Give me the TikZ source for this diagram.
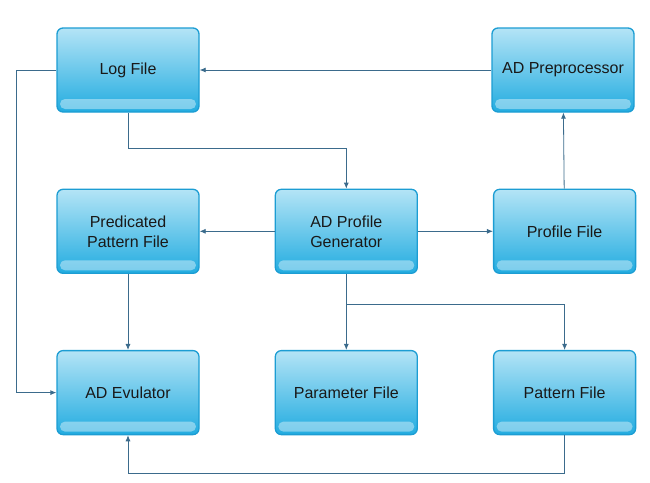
\documentclass[tikz,border=0pt]{standalone}
\usepackage{fontspec}
\setmainfont{Liberation Sans}
\usepackage{xcolor}
\definecolor{cBox}{HTML}{2DB8E8}
\definecolor{cBoxTop}{HTML}{B4E4F6}
\definecolor{cBoxLow}{HTML}{22ACE0}
\definecolor{cBoxEdge}{HTML}{1C9DD3}
\definecolor{cLine}{HTML}{3B6B8C}
\usetikzlibrary{positioning,arrows.meta}
\tikzset{
  node-box/.style={draw=cBoxEdge,line width=1.3pt,rounded corners=6pt,
    minimum width=142pt,minimum height=84pt,align=center,
    font=\fontsize{16}{20}\selectfont,text=black!90,
    top color=cBoxTop,middle color=cBox,bottom color=cBoxLow,
    path picture={
      \fill[white,opacity=0.4,rounded corners=5pt]
        ([xshift=3pt,yshift=3pt]path picture bounding box.south west) rectangle
        ([xshift=-3pt,yshift=13pt]path picture bounding box.south east);
    }},
  arrow/.style={-{Latex[length=6pt,width=5pt]},draw=cLine,line width=0.8pt},
}

\begin{document}
\begin{tikzpicture}[x=1pt,y=-1pt,node distance=76pt and 75pt]
  \useasboundingbox (0,0) rectangle (650,482);
  % top row
  \node[node-box] (log) at (128,70) {Log File};
  \node[node-box] (pre) at (563,70) {AD Preprocessor};
  % middle row
  \node[node-box,below=of log] (pred) {Predicated\\Pattern File};
  \node[node-box,right=of pred] (gen) {AD Profile\\Generator};
  \node[node-box,right=of gen] (prof) {Profile File};
  % bottom row
  \node[node-box,below=of pred] (eval) {AD Evulator};
  \node[node-box,below=of gen] (param) {Parameter File};
  \node[node-box,below=of prof] (pat) {Pattern File};

  \draw[arrow] (pre) -- (log);
  \draw[arrow] (log.south) -- ++(0,36) -| (gen.north);
  \draw[arrow] (gen) -- (pred);
  \draw[arrow] (gen) -- (prof);
  \draw[arrow] (prof) -- (pre);
  \draw[arrow] (pred) -- (eval);
  \draw[arrow] (gen) -- (param);
  \draw[arrow] ([yshift=-30pt]gen.south) -| (pat.north);
  \draw[arrow] (pat.south) -- ++(0,38) -| (eval.south);
  \draw[arrow] (log.west) -- ++(-40,0) |- (eval.west);
\end{tikzpicture}
\end{document}
